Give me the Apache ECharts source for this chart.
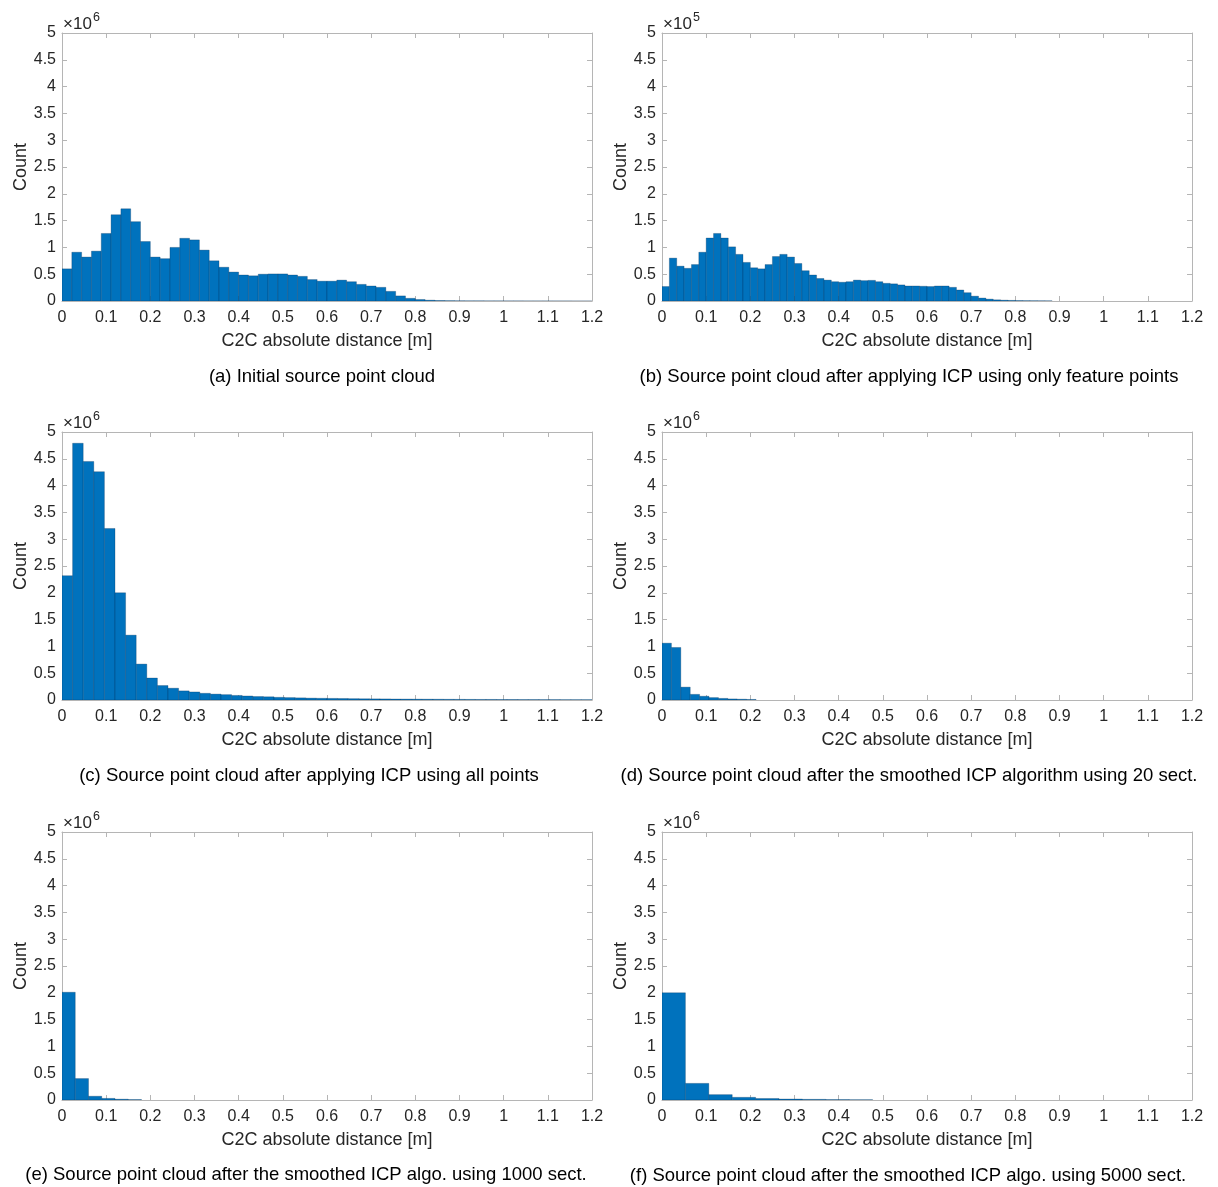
<!DOCTYPE html>
<html>
<head>
<meta charset="utf-8">
<script src="https://cdn.jsdelivr.net/npm/echarts@6/dist/echarts.min.js"></script>
<style>
html,body{margin:0;padding:0;background:#fff;}
#chart{width:1218px;height:1187px;}
</style>
</head>
<body>
<div id="chart"></div>
<script>
// ---- Data (counts shown in axis units: ×10^6 or ×10^5) ----
const xTicks = [0,0.1,0.2,0.3,0.4,0.5,0.6,0.7,0.8,0.9,1,1.1,1.2];
const yTicks = [0,0.5,1,1.5,2,2.5,3,3.5,4,4.5,5];

const binWidthA = 0.02222;
const countsA = [0.60,0.91,0.82,0.93,1.26,1.61,1.72,1.48,1.11,0.82,0.79,1.00,1.17,1.14,0.95,0.75,0.63,0.54,0.485,0.47,
  0.50,0.505,0.505,0.485,0.46,0.40,0.37,0.37,0.39,0.36,0.31,0.28,0.255,0.18,0.095,0.05,0.028,0.015,0.009,0.006,
  0.004,0.003,0.003,0.002,0.002,0.0015,0.0015,0.001,0.001,0.001,0.0008,0.0006,0.0005,0.0004];

const binWidthB = 0.016667;
const countsB = [0.27,0.80,0.65,0.61,0.68,0.91,1.175,1.26,1.175,1.01,0.87,0.72,0.62,0.60,0.68,0.83,0.87,0.82,0.70,0.565,
  0.485,0.42,0.39,0.36,0.35,0.36,0.39,0.38,0.385,0.36,0.33,0.32,0.30,0.28,0.28,0.275,0.27,0.28,0.28,0.255,
  0.205,0.155,0.09,0.055,0.035,0.022,0.015,0.011,0.008,0.006,0.005,0.004,0.003];

const binWidthC = 0.024;
const countsC = [2.32,4.79,4.45,4.26,3.20,2.00,1.21,0.67,0.41,0.27,0.22,0.17,0.15,0.125,0.11,0.10,0.085,0.075,0.065,0.06,
  0.05,0.045,0.04,0.035,0.032,0.03,0.028,0.025,0.023,0.021,0.02,0.018,0.017,0.016,0.015,0.014,0.013,0.012,0.011,0.01,
  0.01,0.009,0.009,0.008,0.008,0.007,0.007,0.006,0.006,0.006];

const binWidthD = 0.0213;
const countsD = [1.06,0.98,0.24,0.105,0.07,0.045,0.03,0.02,0.015,0.01];

const binWidthE = 0.03;
const countsE = [2.01,0.40,0.07,0.03,0.015,0.008];

const binWidthF = 0.053;
const countsF = [2.0,0.31,0.10,0.05,0.028,0.018,0.012,0.008,0.005];

const exponents = ['6','5','6','6','6','6'];
const captions = [
  '(a) Initial source point cloud',
  '(b) Source point cloud after applying ICP using only feature points',
  '(c) Source point cloud after applying ICP using all points',
  '(d) Source point cloud after the smoothed ICP algorithm using 20 sect.',
  '(e) Source point cloud after the smoothed ICP algo. using 1000 sect.',
  '(f) Source point cloud after the smoothed ICP algo. using 5000 sect.'
];
const xLabel = 'C2C absolute distance [m]';
const yLabel = 'Count';

// ---- Layout ----
const FONT = '"Liberation Sans", Arial, Helvetica, sans-serif';
const AXIS_COLOR = '#b5b5b5';
const TEXT_COLOR = '#262626';
const BAR_COLOR = '#0072BD';
const panels = [
  {w: binWidthA, c: countsA, left: 62,  top: 33,  capX: 322, capY: 377},
  {w: binWidthB, c: countsB, left: 662, top: 33,  capX: 909, capY: 377},
  {w: binWidthC, c: countsC, left: 62,  top: 432, capX: 309, capY: 776},
  {w: binWidthD, c: countsD, left: 662, top: 432, capX: 909, capY: 776},
  {w: binWidthE, c: countsE, left: 62,  top: 832, capX: 306, capY: 1175},
  {w: binWidthF, c: countsF, left: 662, top: 832, capX: 908, capY: 1176}
];
const GW = 530, GH = 268;

const fmt = v => String(+(+v).toFixed(2));

const grid = [], xAxis = [], yAxis = [], series = [], graphic = [];
panels.forEach((p, i) => {
  grid.push({left: p.left, top: p.top, width: GW, height: GH, containLabel: false});
  const lineStyle = {color: AXIS_COLOR, width: 1};
  const tick = {show: true, inside: true, length: 5, lineStyle: lineStyle};
  xAxis.push({
    type: 'value', gridIndex: i, position: 'bottom', min: 0, max: 1.2, interval: 0.1,
    axisLine: {show: true, lineStyle: lineStyle}, axisTick: tick,
    axisLabel: {color: TEXT_COLOR, fontSize: 16, fontFamily: FONT, margin: 9, formatter: fmt, showMaxLabel: true},
    splitLine: {show: false},
    name: xLabel, nameLocation: 'middle', nameGap: 31,
    nameTextStyle: {color: TEXT_COLOR, fontSize: 18, fontFamily: FONT}
  });
  xAxis.push({
    type: 'value', gridIndex: i, position: 'top', min: 0, max: 1.2, interval: 0.1,
    axisLine: {show: true, onZero: false, lineStyle: lineStyle}, axisTick: tick,
    axisLabel: {show: false}, splitLine: {show: false}
  });
  yAxis.push({
    type: 'value', gridIndex: i, position: 'left', min: 0, max: 5, interval: 0.5,
    axisLine: {show: true, lineStyle: lineStyle}, axisTick: tick,
    axisLabel: {color: TEXT_COLOR, fontSize: 16, fontFamily: FONT, margin: 6, formatter: fmt, padding: [3, 0, 0, 0]},
    splitLine: {show: false},
    name: yLabel, nameLocation: 'middle', nameGap: 30,
    nameTextStyle: {color: TEXT_COLOR, fontSize: 18, fontFamily: FONT}
  });
  yAxis.push({
    type: 'value', gridIndex: i, position: 'right', min: 0, max: 5, interval: 0.5,
    axisLine: {show: true, onZero: false, lineStyle: lineStyle}, axisTick: tick,
    axisLabel: {show: false}, splitLine: {show: false}
  });
  const data = p.c.map((v, k) => [k * p.w, (k + 1) * p.w, v]);
  series.push({
    type: 'custom', xAxisIndex: 2 * i, yAxisIndex: 2 * i, clip: true,
    encode: {x: [0, 1], y: 2},
    data: data,
    renderItem: function (params, api) {
      const p0 = api.coord([api.value(0), api.value(2)]);
      const p1 = api.coord([api.value(1), 0]);
      return {
        type: 'rect',
        shape: {x: p0[0], y: p0[1], width: p1[0] - p0[0], height: p1[1] - p0[1]},
        style: {fill: BAR_COLOR, stroke: 'rgba(0,40,80,0.45)', lineWidth: 0.6}
      };
    }
  });
  // exponent label
  graphic.push({type: 'text', left: p.left + 1, top: p.top - 17,
    style: {text: '×10', font: '17px ' + FONT, fill: TEXT_COLOR}});
  graphic.push({type: 'text', left: p.left + 31, top: p.top - 22,
    style: {text: exponents[i], font: '12.5px ' + FONT, fill: TEXT_COLOR}});
  // caption
  graphic.push({type: 'text', x: p.capX, y: p.capY,
    style: {text: captions[i], font: '18.5px ' + FONT, fill: '#000', textAlign: 'center', textVerticalAlign: 'middle'}});
});

const chart = echarts.init(document.getElementById('chart'), null, {renderer: 'canvas'});
chart.setOption({
  animation: false,
  backgroundColor: '#fff',
  grid, xAxis, yAxis, series, graphic
});
</script>
</body>
</html>
